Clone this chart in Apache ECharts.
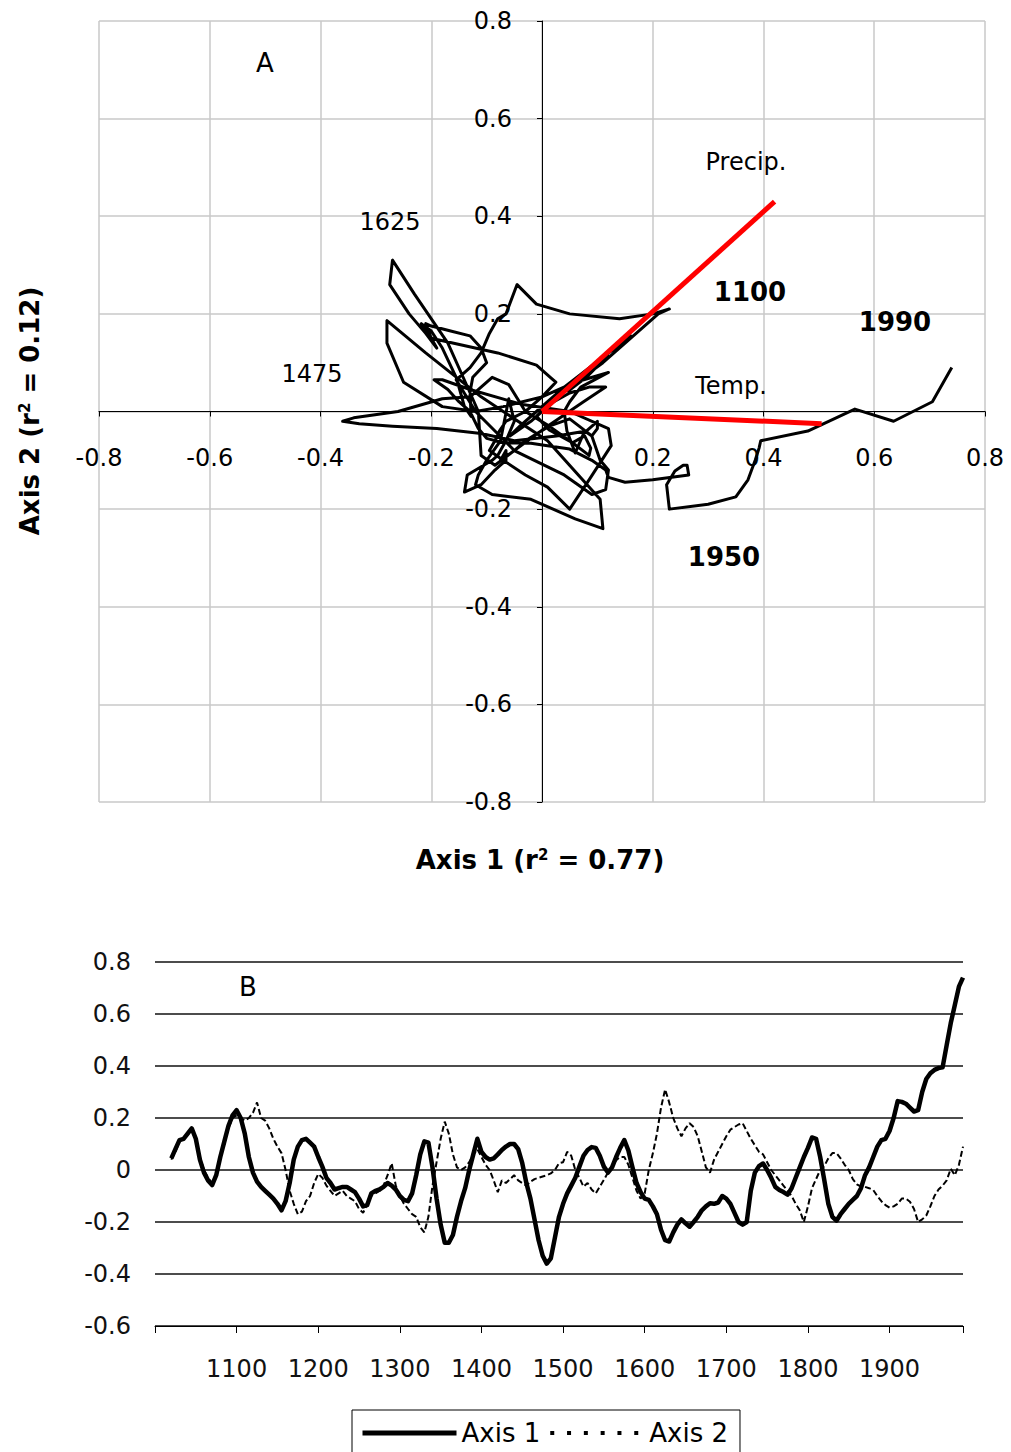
<!DOCTYPE html>
<html><head><meta charset="utf-8">
<script src="https://cdn.jsdelivr.net/npm/echarts@6/dist/echarts.min.js"></script>
<style>html,body{margin:0;padding:0;background:#fff}#c{width:1011px;height:1452px}</style>
</head><body><div id="c"></div>
<script>
// ---- data ----
const years = [1020,1025,1030,1035,1040,1045,1050,1055,1060,1065,1070,1075,1080,1085,1090,1095,
1100,1105,1110,1115,1120,1125,1130,1135,1140,1145,1150,1155,1160,1165,1170,1175,1180,1185,1190,1195,
1200,1205,1210,1215,1220,1225,1230,1235,1240,1245,1250,1255,1260,1265,1270,1275,1280,1285,1290,1295,
1300,1305,1310,1315,1320,1325,1330,1335,1340,1345,1350,1355,1360,1365,1370,1375,1380,1385,1390,1395,
1400,1405,1410,1415,1420,1425,1430,1435,1440,1445,1450,1455,1460,1465,1470,1475,1480,1485,1490,1495,
1500,1505,1510,1515,1520,1525,1530,1535,1540,1545,1550,1555,1560,1565,1570,1575,1580,1585,1590,1595,
1600,1605,1610,1615,1620,1625,1630,1635,1640,1645,1650,1655,1660,1665,1670,1675,1680,1685,1690,1695,
1700,1705,1710,1715,1720,1725,1730,1735,1740,1745,1750,1755,1760,1765,1770,1775,1780,1785,1790,1795,
1800,1805,1810,1815,1820,1825,1830,1835,1840,1845,1850,1855,1860,1865,1870,1875,1880,1885,1890,1895,
1900,1905,1910,1915,1920,1925,1930,1935,1940,1945,1950,1955,1960,1965,1970,1975,1980,1985,1990];

const axis1 = [0.045,0.08,0.115,0.12,0.14,0.16,0.12,0.04,-0.01,-0.04,-0.058,-0.02,0.05,0.11,0.17,0.21,
0.23,0.2,0.14,0.05,-0.01,-0.045,-0.065,-0.08,-0.095,-0.11,-0.13,-0.155,-0.12,-0.05,0.04,0.09,0.115,0.12,0.105,0.09,
0.05,0.013,-0.03,-0.05,-0.075,-0.07,-0.065,-0.065,-0.075,-0.085,-0.11,-0.14,-0.135,-0.09,-0.08,-0.075,-0.065,-0.05,-0.06,-0.075,
-0.1,-0.115,-0.12,-0.09,-0.02,0.06,0.11,0.105,0.01,-0.11,-0.21,-0.28,-0.28,-0.25,-0.18,-0.12,-0.07,0.0,0.06,0.12,
0.07,0.05,0.04,0.045,0.06,0.077,0.09,0.1,0.1,0.08,0.026,-0.05,-0.11,-0.19,-0.27,-0.33,-0.36,-0.34,-0.26,-0.18,
-0.13,-0.09,-0.06,-0.03,0.013,0.055,0.077,0.088,0.085,0.055,0.013,-0.01,0.01,0.05,0.085,0.115,0.075,0.01,-0.05,-0.085,
-0.11,-0.115,-0.14,-0.17,-0.23,-0.27,-0.275,-0.24,-0.21,-0.19,-0.205,-0.218,-0.2,-0.18,-0.155,-0.14,-0.128,-0.13,-0.125,-0.1,
-0.11,-0.13,-0.165,-0.2,-0.21,-0.2,-0.08,-0.01,0.015,0.025,0.0,-0.03,-0.065,-0.077,-0.085,-0.095,-0.07,-0.03,0.01,0.05,
0.085,0.125,0.12,0.05,-0.038,-0.13,-0.18,-0.195,-0.17,-0.15,-0.13,-0.115,-0.1,-0.07,-0.02,0.01,0.05,0.09,0.115,0.12,
0.15,0.2,0.265,0.262,0.255,0.24,0.225,0.23,0.3,0.35,0.372,0.385,0.392,0.395,0.48,0.565,0.635,0.705,0.74];

const axis2 = [0.04,0.07,0.11,0.12,0.135,0.155,0.12,0.05,0.0,-0.03,-0.05,-0.02,0.05,0.1,0.16,0.2,
0.21,0.2,0.19,0.2,0.22,0.26,0.2,0.19,0.16,0.12,0.09,0.065,0.0,-0.08,-0.13,-0.17,-0.16,-0.12,-0.1,-0.05,
-0.015,-0.03,-0.06,-0.08,-0.1,-0.09,-0.08,-0.1,-0.11,-0.12,-0.15,-0.165,-0.13,-0.1,-0.09,-0.08,-0.06,-0.02,0.026,-0.06,
-0.1,-0.13,-0.15,-0.17,-0.18,-0.22,-0.24,-0.18,-0.06,0.03,0.12,0.186,0.14,0.06,0.01,0.0,0.01,0.03,0.06,0.08,
0.05,0.02,0.0,-0.04,-0.085,-0.04,-0.05,-0.035,-0.02,-0.04,-0.05,-0.06,-0.045,-0.035,-0.03,-0.025,-0.02,-0.013,0.0,0.026,
0.03,0.07,0.055,0.0,-0.03,-0.064,-0.05,-0.075,-0.09,-0.064,-0.038,-0.01,0.013,0.038,0.05,0.05,0.02,-0.03,-0.08,-0.11,
-0.09,0.0,0.064,0.14,0.24,0.31,0.26,0.2,0.16,0.13,0.16,0.18,0.165,0.13,0.07,0.01,-0.01,0.04,0.07,0.1,
0.13,0.155,0.165,0.175,0.18,0.15,0.12,0.095,0.07,0.06,0.03,0.0,-0.02,-0.04,-0.06,-0.08,-0.1,-0.13,-0.155,-0.2,
-0.14,-0.07,-0.035,0.0,0.015,0.045,0.065,0.065,0.045,0.02,0.0,-0.035,-0.055,-0.064,-0.065,-0.07,-0.077,-0.1,-0.12,-0.135,
-0.145,-0.14,-0.13,-0.11,-0.11,-0.122,-0.15,-0.2,-0.19,-0.175,-0.14,-0.1,-0.075,-0.06,-0.04,0.005,-0.02,0.02,0.09];

const precipVector = [[0, 0], [0.42, 0.43]];
const tempVector = [[0, 0], [0.505, -0.025]];
const seriesNames = ['Axis 1', 'Axis 2'];

// ---- chart ----
const FONT = 'DejaVu Sans';
const chart = echarts.init(document.getElementById('c'), null, {renderer: 'svg'});

const fmtA = v => { const r = Math.round(v * 10) / 10; return r === 0 ? '' : r.toFixed(1); };
const fmtB = v => { const r = Math.round(v * 10) / 10; return r === 0 ? '0' : r.toFixed(1); };

const trajectory = years.map((y, i) => [axis1[i], axis2[i]]);
const s1 = years.map((y, i) => [y, axis1[i]]);
const s2 = years.map((y, i) => [y, axis2[i]]);

// panel A geometry: axes cross at the origin of the plot
const gA = {left: 99, top: 21, width: 886, height: 781};
const xCrossOffset = -gA.height / 2;   // move x axis up to y = 0
const yCrossOffset = -gA.width / 2;    // move y axis right to x = 0

function txt(x, y, text, size, bold, extra) {
  return Object.assign({
    type: 'text', x: x, y: y, silent: true, z: 50,
    style: {text: text, fontSize: size, fontFamily: FONT, fontWeight: bold ? 'bold' : 'normal',
      fill: '#000', align: 'center', verticalAlign: 'middle'}
  }, extra || {});
}

const option = {
  animation: false,
  backgroundColor: '#fff',
  grid: [
    Object.assign({containLabel: false}, gA),
    {left: 155, top: 962, width: 808, height: 364, containLabel: false}
  ],
  xAxis: [
    {gridIndex: 0, type: 'value', min: -0.8, max: 0.8, interval: 0.2, position: 'bottom', offset: xCrossOffset,
     axisLine: {onZero: false, lineStyle: {color: '#000', width: 1}},
     axisTick: {show: true, length: 5, lineStyle: {color: '#000'}},
     axisLabel: {formatter: fmtA, margin: 34, fontSize: 24, fontFamily: FONT, color: '#000'},
     splitLine: {show: true, lineStyle: {color: '#c8c8c8', width: 1.5}}},
    {gridIndex: 1, type: 'value', min: 1000, max: 1990, interval: 100,
     axisLine: {onZero: false, lineStyle: {color: '#000', width: 1}},
     axisTick: {show: true, length: 7, lineStyle: {color: '#000'}},
     axisLabel: {formatter: v => (v > 1000 && v % 100 === 0) ? String(v) : '', margin: 31,
       fontSize: 24, fontFamily: FONT, color: '#111'},
     splitLine: {show: false}}
  ],
  yAxis: [
    {gridIndex: 0, type: 'value', min: -0.8, max: 0.8, interval: 0.2, position: 'left', offset: yCrossOffset,
     axisLine: {onZero: false, lineStyle: {color: '#000', width: 1}},
     axisTick: {show: true, length: 5, lineStyle: {color: '#000'}},
     axisLabel: {formatter: fmtA, margin: 30, fontSize: 24, fontFamily: FONT, color: '#000'},
     splitLine: {show: true, lineStyle: {color: '#c8c8c8', width: 1.5}}},
    {gridIndex: 1, type: 'value', min: -0.6, max: 0.8, interval: 0.2,
     axisLine: {show: false}, axisTick: {show: false},
     axisLabel: {formatter: fmtB, margin: 24, fontSize: 24, fontFamily: FONT, color: '#111'},
     splitLine: {show: true, lineStyle: {color: '#111', width: 1.5}}}
  ],
  legend: {
    left: 352, top: 1410, orient: 'horizontal',
    borderColor: '#000', borderWidth: 1, padding: [10, 12, 10, 8],
    itemWidth: 94, itemHeight: 24, itemGap: 8,
    textStyle: {fontSize: 26, fontFamily: FONT, color: '#000'},
    itemStyle: {opacity: 0},
    data: [
      {name: seriesNames[0], lineStyle: {width: 5, color: '#000', type: 'solid'}},
      {name: seriesNames[1], lineStyle: {width: 4, color: '#000', type: [4, 12.8]}}
    ]
  },
  series: [
    {name: 'trajectory', type: 'line', xAxisIndex: 0, yAxisIndex: 0, data: trajectory,
     symbol: 'none', silent: true, z: 3, lineStyle: {color: '#000', width: 3, join: 'round'}},
    {name: 'Precip.', type: 'line', xAxisIndex: 0, yAxisIndex: 0, data: precipVector,
     symbol: 'none', silent: true, z: 4, lineStyle: {color: '#ff0000', width: 5}},
    {name: 'Temp.', type: 'line', xAxisIndex: 0, yAxisIndex: 0, data: tempVector,
     symbol: 'none', silent: true, z: 4, lineStyle: {color: '#ff0000', width: 5}},
    {name: seriesNames[0], type: 'line', xAxisIndex: 1, yAxisIndex: 1, data: s1,
     symbol: 'none', silent: true, z: 4, color: '#000', lineStyle: {color: '#000', width: 4.5, join: 'round'}},
    {name: seriesNames[1], type: 'line', xAxisIndex: 1, yAxisIndex: 1, data: s2,
     symbol: 'none', silent: true, z: 3, color: '#000', lineStyle: {color: '#000', width: 2, type: [6, 3]}}
  ],
  graphic: [
    txt(265, 63, 'A', 26, false),
    txt(746, 162, 'Precip.', 24, false),
    txt(390, 222, '1625', 24, false),
    txt(750, 292, '1100', 26, true),
    txt(895, 322, '1990', 26, true),
    txt(312, 374, '1475', 24, false),
    txt(731, 386, 'Temp.', 24, false),
    txt(724, 557, '1950', 26, true),
    txt(248, 987, 'B', 26, false),
    {type: 'text', x: 540, y: 860, silent: true, z: 50,
     style: {text: 'Axis 1 (r{sup|2} = 0.77)', fontSize: 26, fontFamily: FONT, fontWeight: 'bold',
       fill: '#000', align: 'center', verticalAlign: 'middle',
       rich: {sup: {fontSize: 15, fontFamily: FONT, fontWeight: 'bold', verticalAlign: 'top', fill: '#000'}}}},
    {type: 'text', x: 30, y: 411, rotation: Math.PI / 2, silent: true, z: 50,
     style: {text: 'Axis 2 (r{sup|2} = 0.12)', fontSize: 26, fontFamily: FONT, fontWeight: 'bold',
       fill: '#000', align: 'center', verticalAlign: 'middle',
       rich: {sup: {fontSize: 15, fontFamily: FONT, fontWeight: 'bold', verticalAlign: 'top', fill: '#000'}}}}
  ]
};
chart.setOption(option);
</script>
</body></html>
